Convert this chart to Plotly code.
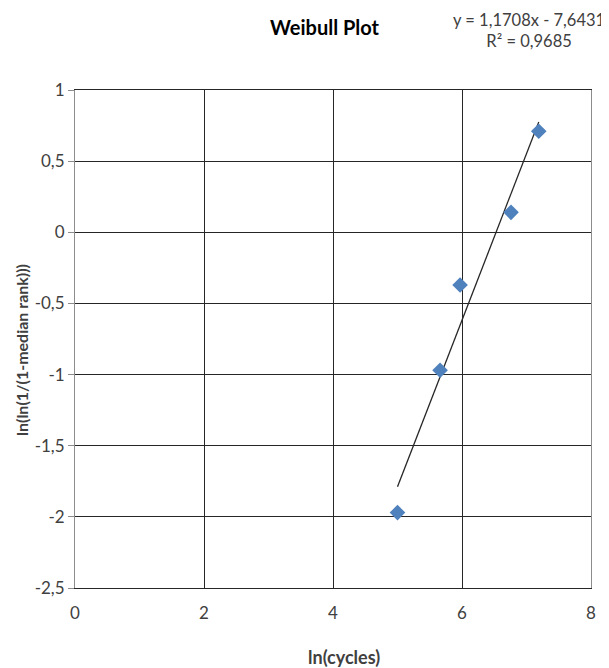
import plotly.graph_objects as go

# Data
ln_cycles = [5.00, 5.66, 5.97, 6.76, 7.19]
ln_ln_rank = [-1.97, -0.97, -0.37, 0.14, 0.71]

# Trendline (as reported on the chart)
slope = 1.1708
intercept = -7.6431
r_squared = 0.9685

x_ticks = [0, 2, 4, 6, 8]
x_tick_labels = ["0", "2", "4", "6", "8"]
y_ticks = [1, 0.5, 0, -0.5, -1, -1.5, -2, -2.5]
y_tick_labels = ["1", "0,5", "0", "-0,5", "-1", "-1,5", "-2", "-2,5"]

FONT = "Lato, 'Open Sans', sans-serif"
TXT = "#404040"

# page body has an 8px default margin; compensate
W, H = 601, 660
ML, MR, MT, MB = 67, 18, 82, 80
PW = W - ML - MR
PH = H - MT - MB

x_line = [min(ln_cycles), max(ln_cycles)]
y_line = [slope * v + intercept for v in x_line]

fig = go.Figure()
fig.add_trace(go.Scatter(
    x=x_line, y=y_line, mode="lines",
    line=dict(color="#262626", width=1.3),
    hoverinfo="skip", showlegend=False,
))
fig.add_trace(go.Scatter(
    x=ln_cycles, y=ln_ln_rank, mode="markers",
    marker=dict(symbol="diamond", size=12, color="#4F81BD",
                line=dict(width=0)),
    showlegend=False,
))

def px_x(page_x):
    return (page_x - 8 - ML) / PW

def px_y(page_y):
    return (H - MB - (page_y - 8)) / PH

fig.update_layout(
    width=W, height=H,
    margin=dict(l=ML, r=MR, t=MT, b=MB),
    paper_bgcolor="white", plot_bgcolor="white",
    font=dict(family=FONT, size=17, color=TXT),
    showlegend=False,
    xaxis=dict(
        range=[0, 8], tickvals=x_ticks, ticktext=x_tick_labels, showgrid=True,
        gridcolor="#262626", gridwidth=1,
        showline=True, linecolor="#262626", linewidth=1, mirror=True,
        ticks="", zeroline=False, ticklabelstandoff=10,
        tickfont=dict(family=FONT, size=17, color=TXT),
    ),
    yaxis=dict(
        range=[-2.5, 1], tickvals=y_ticks, ticktext=y_tick_labels, showgrid=True,
        gridcolor="#262626", gridwidth=1,
        showline=True, linecolor="#8c8c8c", linewidth=1, mirror=True,
        ticks="outside", ticklen=6, tickcolor="#8c8c8c",
        zeroline=False,
        tickfont=dict(family=FONT, size=17, color=TXT),
    ),
    annotations=[
        dict(text="<b>Weibull Plot</b>", xref="paper", yref="paper",
             x=px_x(325), y=px_y(27), showarrow=False,
             font=dict(family=FONT, size=20, color="black"),
             xanchor="center", yanchor="middle"),
        dict(text="y = 1,1708x - 7,6431<br>R² = 0,9685",
             xref="paper", yref="paper",
             x=px_x(529), y=px_y(30), showarrow=False,
             align="center", xanchor="center", yanchor="middle",
             font=dict(family=FONT, size=16.5, color=TXT)),
        dict(text="<b>ln(cycles)</b>", xref="paper", yref="paper",
             x=px_x(344), y=px_y(657), showarrow=False,
             xanchor="center", yanchor="middle",
             font=dict(family=FONT, size=18, color=TXT)),
        dict(text="<b>ln(ln(1/(1-median rank)))</b>", xref="paper", yref="paper",
             x=px_x(21), y=px_y(350), showarrow=False,
             textangle=-90, xanchor="center", yanchor="middle",
             font=dict(family=FONT, size=16, color=TXT)),
    ],
)

fig.write_html("out.html")
